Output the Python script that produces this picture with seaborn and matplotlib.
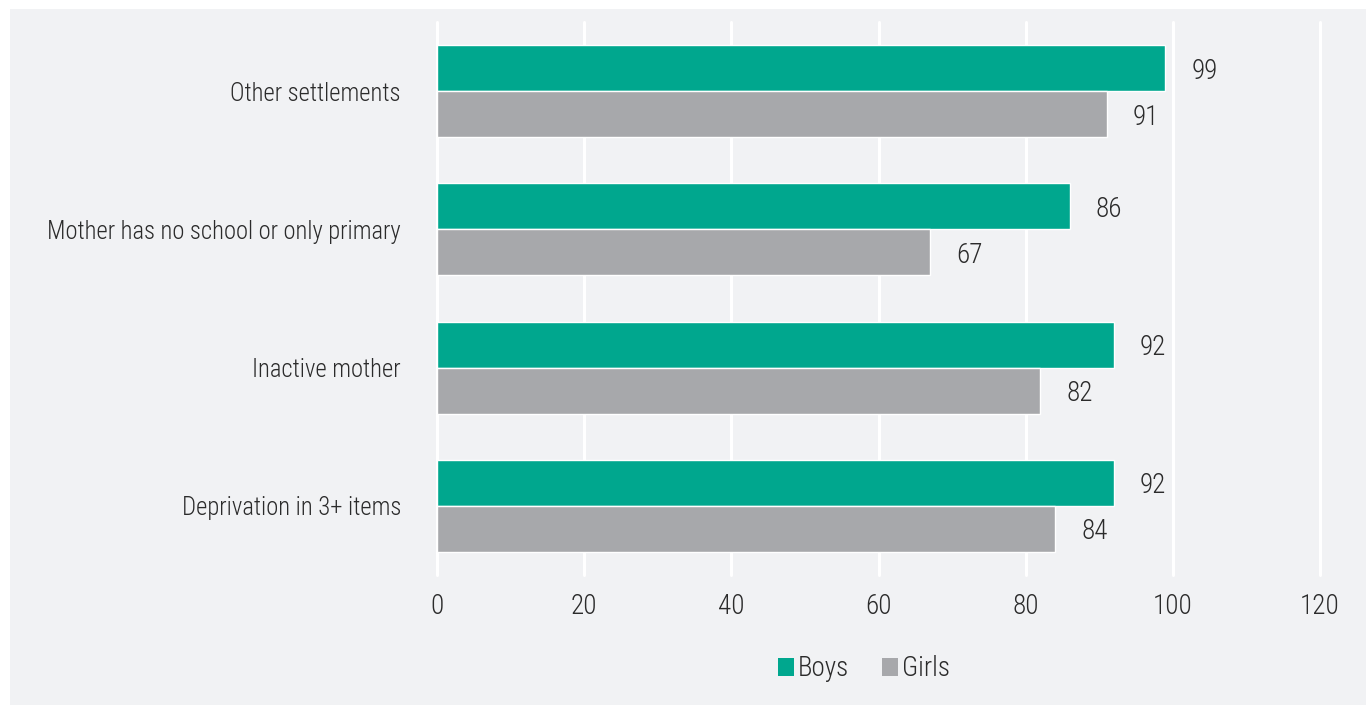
import matplotlib
matplotlib.use("Agg")
import matplotlib.pyplot as plt
import seaborn as sns
import pandas as pd
from matplotlib.patches import Rectangle
from matplotlib.transforms import offset_copy

categories = [
    "Other settlements",
    "Mother has no school or only primary",
    "Inactive mother",
    "Deprivation in 3+ items",
]
boys = [99, 86, 92, 92]
girls = [91, 67, 82, 84]
groups = ["Boys", "Girls"]
xticks = [0, 20, 40, 60, 80, 100, 120]

GREEN = "#00a78e"
GREY = "#a7a8ab"
PANEL = "#f1f2f4"
TEXT = "#2b2b2b"
FS = 19.5
FS_CAT = 17.7

sns.set_theme(style="white")
plt.rcParams["font.family"] = ["Roboto Condensed", "DejaVu Sans"]
plt.rcParams["font.weight"] = 300

df = pd.DataFrame({
    "category": categories * 2,
    "value": boys + girls,
    "group": [groups[0]] * len(categories) + [groups[1]] * len(categories),
})

W, H = 1366, 705
fig = plt.figure(figsize=(W / 100, H / 100), dpi=100)
fig.patch.set_facecolor("white")
fig.patches.append(Rectangle((10 / W, 0), 1 - 10 / W, 1 - 9 / H,
                             transform=fig.transFigure, facecolor=PANEL,
                             edgecolor="none", zorder=-10))

ax = fig.add_axes([437 / W, 1 - 575 / H, (1320 - 437) / W, (575 - 22) / H])
ax.set_facecolor("none")

sns.barplot(data=df, y="category", x="value", hue="group", order=categories,
            hue_order=groups, palette=[GREEN, GREY], width=0.665,
            orient="h", ax=ax, legend=False, saturation=1, errorbar=None)

ax.set_xlim(0, 120)
ax.set_ylim(len(categories) - 0.5, -0.5)
ax.set_xticks(xticks)
ax.set_xticklabels([str(t) for t in xticks])
for t in xticks:
    ax.axvline(t, color="white", lw=2.2, zorder=0, clip_on=False)

for s in ax.spines.values():
    s.set_visible(False)
ax.tick_params(axis="both", length=0, colors=TEXT)
ax.tick_params(axis="x", labelsize=FS, pad=13)
ax.tick_params(axis="y", labelsize=FS_CAT, pad=26)
ax.set_xlabel("")
ax.set_ylabel("")

# value labels to the right of each bar
for container in ax.containers:
    for bar in container:
        v = bar.get_width()
        y = bar.get_y() + bar.get_height() / 2
        tr = offset_copy(ax.transData, fig=fig, x=26, y=-3, units="dots")
        ax.text(v, y, f"{v:.0f}", transform=tr, ha="left", va="center",
                fontsize=FS, color=TEXT)

# legend
handles = [Rectangle((0, 0), 1, 1, facecolor=c, edgecolor="none") for c in (GREEN, GREY)]
fig.legend(handles, groups, loc="center", bbox_to_anchor=(864 / W, 1 - 669 / H),
           ncol=2, frameon=False, fontsize=FS, handlelength=0.6, handleheight=0.6,
           handletextpad=0.15, columnspacing=1.2, labelcolor=TEXT)

fig.savefig("out.png", dpi=100, facecolor=fig.get_facecolor())
